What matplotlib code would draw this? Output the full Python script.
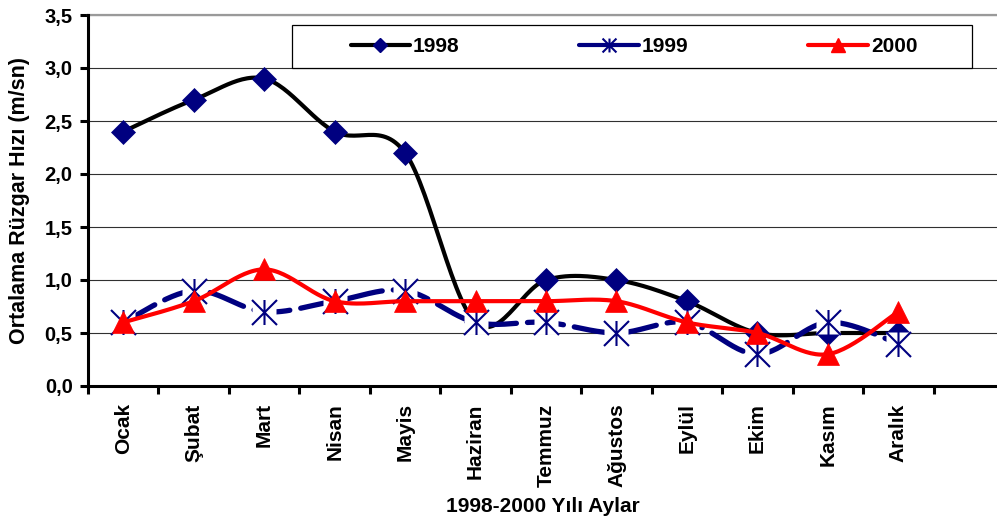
import numpy as np
import matplotlib
matplotlib.use("Agg")
import matplotlib.pyplot as plt
from matplotlib.path import Path
from matplotlib.lines import Line2D
from matplotlib.patches import Rectangle

plt.rcParams['font.family'] = ['Liberation Sans', 'DejaVu Sans']
plt.rcParams['font.weight'] = 'bold'
plt.rcParams['lines.scale_dashes'] = False

months = ['Ocak', 'Şubat', 'Mart', 'Nisan', 'Mayis', 'Haziran',
          'Temmuz', 'Ağustos', 'Eylül', 'Ekim', 'Kasım', 'Aralık']
wind_1998 = [2.4, 2.7, 2.9, 2.4, 2.2, 0.6, 1.0, 1.0, 0.8, 0.5, 0.5, 0.5]
wind_1999 = [0.6, 0.9, 0.7, 0.8, 0.9, 0.6, 0.6, 0.5, 0.6, 0.3, 0.6, 0.4]
wind_2000 = [0.6, 0.8, 1.1, 0.8, 0.8, 0.8, 0.8, 0.8, 0.6, 0.5, 0.3, 0.7]
yticks = [0.0, 0.5, 1.0, 1.5, 2.0, 2.5, 3.0, 3.5]


def smooth(y, n=30):
    # bezier curve through the points, same kind of smoothing as a spreadsheet chart
    pts = np.column_stack([np.arange(len(y)), np.asarray(y, float)])
    p = np.vstack([pts[0], pts, pts[-1]])
    t = np.linspace(0, 1, n)[:, None]
    out = []
    for i in range(len(pts) - 1):
        p0, p1, p2, p3 = p[i], p[i + 1], p[i + 2], p[i + 3]
        c1 = p1 + (p2 - p0) / 6
        c2 = p2 - (p3 - p1) / 6
        seg = (1 - t)**3 * p1 + 3 * (1 - t)**2 * t * c1 + 3 * (1 - t) * t**2 * c2 + t**3 * p2
        out.append(seg if i == 0 else seg[1:])
    out = np.vstack(out)
    return out[:, 0], out[:, 1]


# asterisk marker: an X with a vertical bar through it
star = Path([(-1, -1), (1, 1), (-1, 1), (1, -1), (0, -1), (0, 1)],
            [Path.MOVETO, Path.LINETO, Path.MOVETO, Path.LINETO, Path.MOVETO, Path.LINETO])

navy = '#000080'
red = '#ff0000'
x = np.arange(len(months))

fig = plt.figure(figsize=(9.97, 5.21), dpi=100)
ax = fig.add_axes([88 / 997, 135 / 521, 909 / 997, 371 / 521])

# 1998
sx, sy = smooth(wind_1998)
ax.plot(sx, sy, color='black', lw=3, zorder=3, solid_capstyle='round')
ax.plot(x, wind_1998, ls='none', marker='D', ms=12.5, mfc=navy, mec=navy, mew=0.5,
        zorder=3.1, clip_on=False)

# 1999
sx, sy = smooth(wind_1999)
ax.plot(sx, sy, color=navy, lw=3.8, zorder=4, dashes=(26, 8), dash_capstyle='round')
ax.plot(x, wind_1999, ls='none', marker='s', ms=17, mfc='white', mec='none',
        zorder=4.1, clip_on=False)
ax.plot(x, wind_1999, ls='none', marker=star, ms=18, mfc='none', mec=navy, mew=1.5,
        zorder=4.2, clip_on=False)

# 2000
sx, sy = smooth(wind_2000)
ax.plot(sx, sy, color=red, lw=3, zorder=5, solid_capstyle='round')
ax.plot(x, wind_2000, ls='none', marker='^', ms=15.5, mfc=red, mec=red, mew=0.5,
        zorder=5.1, clip_on=False)

ax.set_xlim(-0.5, 12.4)
ax.set_ylim(0, 3.5)
ax.set_yticks(yticks, labels=[f'{v:.1f}'.replace('.', ',') for v in yticks])
ax.set_xticks(np.arange(-0.5, 12, 1), labels=[])
ax.set_xticks(x, labels=months, minor=True, rotation=90)
ax.tick_params(axis='y', length=6, width=2.2, pad=5, labelsize=14.5)
ax.tick_params(axis='x', which='major', length=6, width=2.2)
ax.tick_params(axis='x', which='minor', length=0, pad=12.5, labelsize=15)

ax.grid(axis='y', color='#303030', lw=0.8)
ax.set_axisbelow(True)
for s in ['left', 'bottom']:
    ax.spines[s].set_linewidth(2.2)
    ax.spines[s].set_zorder(6)
ax.spines['right'].set_visible(False)
ax.spines['top'].set_color('#9a9a9a')
ax.spines['top'].set_linewidth(1.6)

ax.set_ylabel('Ortalama Rüzgar Hızı (m/sn)', fontsize=15.5, fontweight='bold')
ax.yaxis.set_label_coords(-0.064, 0.5)
ax.set_xlabel('1998-2000 Yılı Aylar', fontsize=15, fontweight='bold')
ax.xaxis.set_label_coords(0.5, -0.298)

# legend box
fig.add_artist(Rectangle((292 / 997, 1 - 68 / 521), 680 / 997, 43 / 521,
                         transform=fig.transFigure, facecolor='white',
                         edgecolor='black', lw=0.9, zorder=10))
handles = [
    Line2D([], [], color='black', lw=3, marker='D', ms=7.5, mfc=navy, mec=navy,
           solid_capstyle='round'),
    Line2D([], [], color=navy, lw=3, marker=star, ms=10, mfc='none', mec=navy, mew=1.5,
           solid_capstyle='round'),
    Line2D([], [], color=red, lw=3, marker='^', ms=10, mfc=red, mec=red,
           solid_capstyle='round'),
]
leg = fig.legend(handles, ['1998', '1999', '2000'], loc='center',
                 bbox_to_anchor=(634 / 997, 1 - 46.5 / 521), ncol=3, frameon=False,
                 prop={'size': 15, 'weight': 'bold'}, handlelength=2.85,
                 handletextpad=0.15, columnspacing=5.75)
leg.set_zorder(11)

fig.savefig('out.png', dpi=100)
